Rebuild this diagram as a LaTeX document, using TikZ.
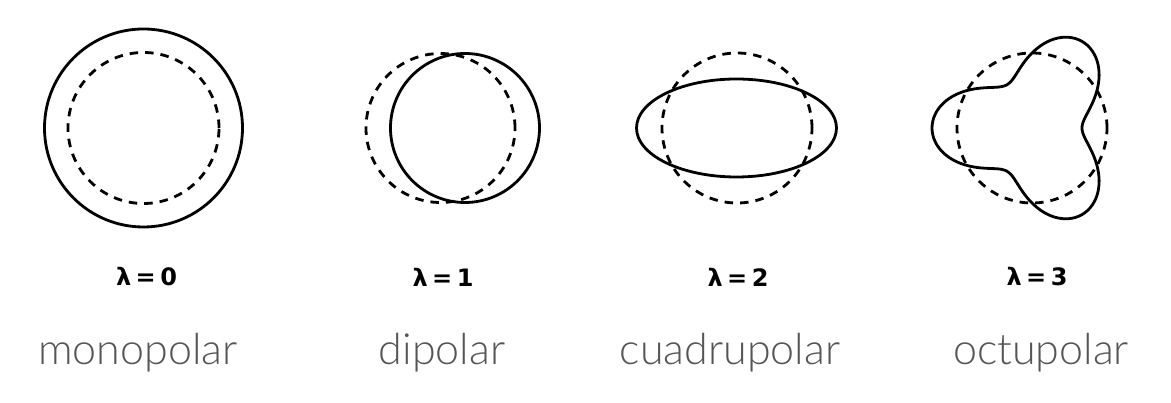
\documentclass[tikz,border=0pt]{standalone}
\usepackage{fontspec}
\setmainfont{Lato}[UprightFont=* Light]
\newfontfamily\lamfont{DejaVu Sans}
\definecolor{labelgray}{HTML}{555555}
\newcommand{\lamsp}{\hspace{4.5pt}}
\begin{document}
\begin{tikzpicture}[x=1pt,y=1pt,
  solidline/.style={draw=black, line width=2.8pt},
  dashline/.style={draw=black, line width=2.8pt, dash pattern=on 8.5pt off 7pt},
  lamlabel/.style={font=\lamfont\bfseries\fontsize{24}{28}\selectfont, text=black, inner sep=0pt, anchor=center},
  namelabel/.style={font=\fontsize{43}{50}\selectfont, text=labelgray, inner sep=0pt, anchor=base}
]
\useasboundingbox (0,0) rectangle (1171,403);
% monopolar
\draw[solidline] (143.5,275) circle[radius=99];
\draw[dashline] (143.5,275) circle[radius=75.5];
% dipolar
\draw[solidline] (465,275) circle[radius=74.5];
\draw[dashline] (440.5,275) circle[radius=74.5];
% quadrupolar
\draw[solidline] (736.5,275) ellipse[x radius=100, y radius=49];
\draw[dashline] (737,275) circle[radius=75];
% octupolar
\draw[dashline] (1032,275) circle[radius=75];
\draw[solidline, shift={(1032,275)}] plot[domain=0:360, samples=181, variable=\t, smooth]
  ({(75-25*cos(3*\t))*cos(\t)}, {(75-25*cos(3*\t))*sin(\t)}) -- cycle;
% lambda labels
\node[lamlabel] (l0) at (146.5,126) {λ\lamsp=\lamsp0};
\node[lamlabel] (l1) at (443,126) {λ\lamsp=\lamsp1};
\node[lamlabel] (l2) at (738,126) {λ\lamsp=\lamsp2};
\node[lamlabel] (l3) at (1037,126) {λ\lamsp=\lamsp3};
% names
\node[namelabel] (n0) at (138,38) {monopolar};
\node[namelabel] (n1) at (442,38) {dipolar};
\node[namelabel] (n2) at (730,38) {cuadrupolar};
\node[namelabel] (n3) at (1041,38) {octupolar};
\end{tikzpicture}
\end{document}
